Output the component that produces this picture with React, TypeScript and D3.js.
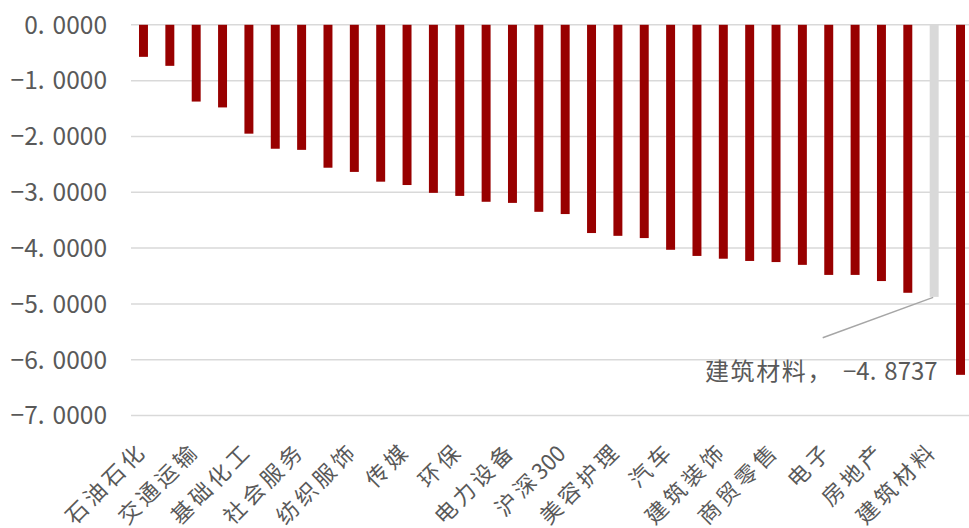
import React from "react";
import * as d3 from "d3";

const categories = [
  "石油石化", "煤炭", "交通运输", "银行", "基础化工", "有色金属", "社会服务", "钢铁",
  "纺织服饰", "公用事业", "传媒", "非银金融", "环保", "农林牧渔", "电力设备", "食品饮料",
  "沪深300", "家用电器", "美容护理", "医药生物", "汽车", "轻工制造", "建筑装饰", "机械设备",
  "商贸零售", "通信", "电子", "国防军工", "房地产", "综合", "建筑材料", "计算机",
];

const values = [
  -0.574, -0.735, -1.375, -1.48, -1.95, -2.22, -2.24, -2.56,
  -2.635, -2.81, -2.87, -3.01, -3.065, -3.17, -3.19, -3.35,
  -3.39, -3.73, -3.78, -3.82, -4.03, -4.14, -4.19, -4.23,
  -4.25, -4.3, -4.48, -4.48, -4.59, -4.8, -4.8737, -6.27,
];

const yTicks = [0, -1, -2, -3, -4, -5, -6, -7];
const highlight = "建筑材料";
const highlightLabel = "建筑材料，";

const W = 969;
const H = 528;
const RED = "#980000";
const GREY_BAR = "#d9d9d9";
const TEXT = "#595959";
const FONT = "'Noto Sans CJK SC', 'Noto Sans', sans-serif";

// split a label into runs of CJK and non-CJK characters
const splitRuns = (s: string) => {
  const runs: { t: string; cjk: boolean }[] = [];
  for (const ch of s) {
    const cjk = /[\u3000-\u9fff\uff00-\uffef]/.test(ch);
    const last = runs[runs.length - 1];
    if (last && last.cjk === cjk) last.t += ch;
    else runs.push({ t: ch, cjk });
  }
  return runs;
};

export default function App() {
  const x = d3
    .scaleBand<string>()
    .domain(categories)
    .range([130.3, 973.7])
    .paddingInner(0.66)
    .paddingOuter(0.33);
  const y = d3.scaleLinear().domain([-7, 0]).range([415.6, 24.8]);

  const fmtParts = (v: number) => {
    const s = d3.format(".4f")(v);
    const [a, b] = s.split(".");
    return [a + ".", b];
  };

  const hiIdx = categories.indexOf(highlight);
  const hiVal = values[hiIdx];
  const hiX = (x(highlight) as number) + x.bandwidth() / 2;
  const hiY = y(hiVal);
  const [ha, hb] = fmtParts(hiVal);

  return (
    <svg
      width={W}
      height={H}
      style={{ position: "absolute", left: 0, top: 0, background: "#fff" }}
      fontFamily={FONT}
    >
      {/* grid */}
      {yTicks.map((t) => (
        <line
          key={"g" + t}
          x1={131}
          x2={W}
          y1={y(t)}
          y2={y(t)}
          stroke="#d9d9d9"
          strokeWidth={1.5}
        />
      ))}
      {/* y labels */}
      {yTicks.map((t) => {
        const [a, b] = fmtParts(t);
        return (
          <text
            key={"t" + t}
            x={107}
            y={y(t)}
            dy="0.36em"
            textAnchor="end"
            fontSize={24.5}
            fill={TEXT}
          >
            {a}
            <tspan dx={8}>{b}</tspan>
          </text>
        );
      })}
      {/* bars */}
      {categories.map((c, i) => {
        const v = values[i];
        return (
          <rect
            key={c}
            x={x(c) as number}
            width={x.bandwidth()}
            y={y(0)}
            height={y(v) - y(0)}
            fill={c === highlight ? GREY_BAR : RED}
          />
        );
      })}
      {/* x labels, every other category */}
      {categories.map((c, i) => {
        if (i % 2 !== 0) return null;
        const runs = splitRuns(c);
        const endsCjk = runs[runs.length - 1].cjk;
        const cx = (x(c) as number) + x.bandwidth() / 2 + (endsCjk ? 4.8 : 2);
        const cy = endsCjk ? 452.2 : 455;
        return (
          <text
            key={"x" + c}
            transform={`translate(${cx},${cy}) rotate(-45)`}
            textAnchor="end"
            fontSize={22}
            fill={TEXT}
          >
            {runs.map((r, k) => (
              <tspan key={k} letterSpacing={r.cjk ? 4 : 0}>
                {r.t}
              </tspan>
            ))}
          </text>
        );
      })}
      {/* annotation */}
      <line
        x1={822.7}
        y1={337.7}
        x2={hiX - 1}
        y2={hiY + 0.5}
        stroke="#a6a6a6"
        strokeWidth={1.5}
      />
      <text y={380} fontSize={24} fill={TEXT}>
        <tspan x={705} letterSpacing={1.6}>{highlightLabel}</tspan>
        <tspan x={843}>{ha}</tspan>
        <tspan dx={8}>{hb}</tspan>
      </text>
    </svg>
  );
}
